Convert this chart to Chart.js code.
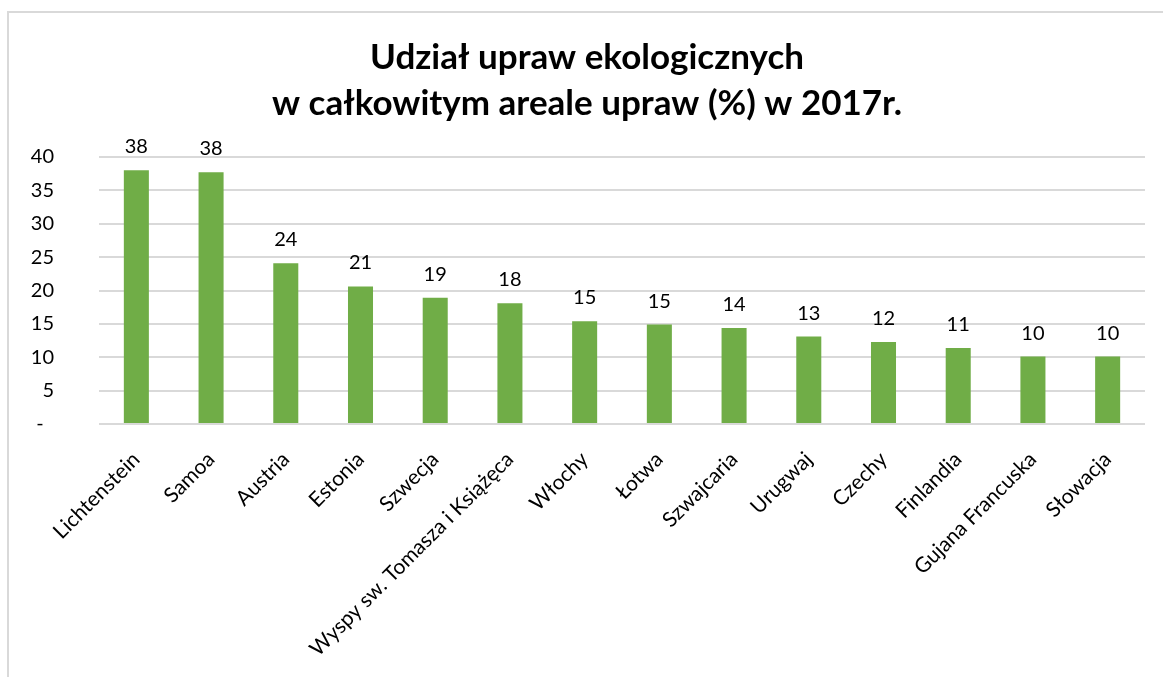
<!DOCTYPE html>
<html>
<head>
<meta charset="utf-8">
<script src="https://cdn.jsdelivr.net/npm/chart.js@4.4.1/dist/chart.umd.min.js"></script>
<style>
  html, body { margin: 0; padding: 0; background: #fff; }
  #wrap { position: relative; width: 1163px; height: 677px; overflow: hidden; }
  #frame { position: absolute; left: 7px; top: 11px; width: 1200px; height: 700px;
           border-left: 2px solid #d9d9d9; border-top: 2px solid #d9d9d9; box-sizing: border-box; }
  #c { position: absolute; left: 0; top: 0; }
</style>
</head>
<body>
<div id="wrap">
  <div id="frame"></div>
  <canvas id="c" width="1163" height="677"></canvas>
</div>
<script>
const titleLines = ['Udział upraw ekologicznych', 'w całkowitym areale upraw (%) w 2017r.'];
const categories = ['Lichtenstein', 'Samoa', 'Austria', 'Estonia', 'Szwecja',
  'Wyspy sw. Tomasza i Książęca', 'Włochy', 'Łotwa', 'Szwajcaria', 'Urugwaj',
  'Czechy', 'Finlandia', 'Gujana Francuska', 'Słowacja'];
const shares = [38.0, 37.7, 24.1, 20.6, 18.9, 18.1, 15.4, 14.9, 14.4, 13.1, 12.3, 11.4, 10.1, 10.1];
const yTicks = [0, 5, 10, 15, 20, 25, 30, 35, 40];

const FONT = 'Lato';
const barLabels = {
  id: 'barLabels',
  afterDatasetsDraw(chart) {
    const ctx = chart.ctx;
    const meta = chart.getDatasetMeta(0);
    ctx.save();
    ctx.font = '20px ' + FONT;
    ctx.fillStyle = '#000';
    ctx.textAlign = 'center';
    ctx.textBaseline = 'alphabetic';
    meta.data.forEach((bar, i) => {
      ctx.fillText(String(Math.round(shares[i])), bar.x, bar.y - 17);
    });
    ctx.restore();
  }
};

new Chart(document.getElementById('c'), {
  type: 'bar',
  data: {
    labels: categories,
    datasets: [{
      data: shares,
      backgroundColor: '#70AD47',
      borderWidth: 0,
      barPercentage: 0.335,
      categoryPercentage: 1.0
    }]
  },
  options: {
    responsive: false,
    animation: false,
    layout: { padding: { left: 29, right: 18, top: 0, bottom: 0 } },
    plugins: {
      legend: { display: false },
      tooltip: { enabled: false },
      title: {
        display: true,
        text: titleLines,
        color: '#000',
        font: { family: FONT, size: 35, weight: 'bold', lineHeight: 46 / 35 },
        padding: { top: 35, bottom: 30 }
      }
    },
    scales: {
      x: {
        grid: { display: false, drawTicks: false },
        border: { display: false },
        ticks: {
          color: '#000',
          font: { family: FONT, size: 21 },
          maxRotation: 45, minRotation: 45,
          autoSkip: false,
          padding: 23
        },
        afterFit(scale) { scale.height = 677 - 424; }
      },
      y: {
        min: 0, max: 40,
        afterBuildTicks(scale) { scale.ticks = yTicks.map(v => ({ value: v })); },
        grid: { color: '#d9d9d9', lineWidth: 2, drawTicks: false },
        border: { display: false },
        ticks: {
          color: '#000',
          font: { family: FONT, size: 20 },
          padding: 45,
          callback: (v) => v === 0 ? '-\u00a0\u00a0' : String(v)
        },
        afterFit(scale) { scale.width = 70; }
      }
    }
  },
  plugins: [barLabels]
});
</script>
</body>
</html>
